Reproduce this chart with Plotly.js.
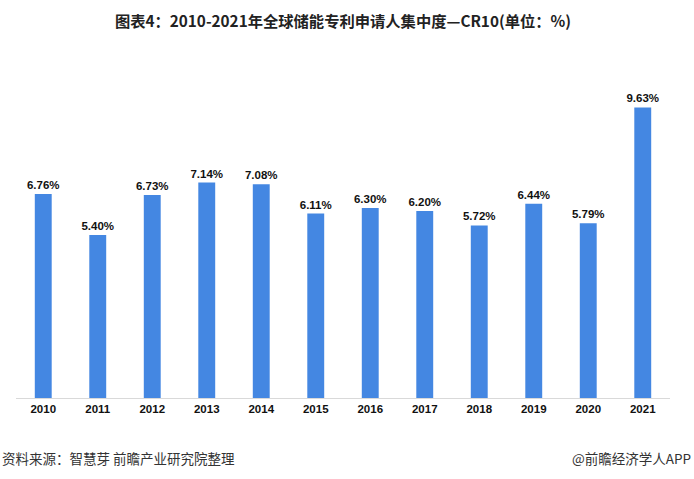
<!DOCTYPE html>
<html>
<head>
<meta charset="utf-8">
<script src="https://cdn.plot.ly/plotly-3.0.1.min.js"></script>
<style>html,body{margin:0;padding:0;background:#fff;}#chart{width:694px;height:479px;}</style>
</head>
<body>
<div id="chart"></div>
<script>
const years = ["2010","2011","2012","2013","2014","2015","2016","2017","2018","2019","2020","2021"];
const cr10 = [6.76, 5.40, 6.73, 7.14, 7.08, 6.11, 6.30, 6.20, 5.72, 6.44, 5.79, 9.63];
const titleText = "图表4：2010-2021年全球储能专利申请人集中度—CR10(单位：%)";
const sourceText = "资料来源：智慧芽 前瞻产业研究院整理";
const brandText = "@前瞻经济学人APP";

const trace = {
  type: "bar",
  x: years,
  y: cr10,
  width: 0.31,
  marker: {color: "#4487e2"},
  text: cr10.map(v => v.toFixed(2) + "%"),
  textposition: "outside",
  constraintext: "none",
  cliponaxis: false,
  textfont: {family: "Liberation Sans, Arial, sans-serif", size: 11.5, color: "#111", weight: "bold"},
  hoverinfo: "skip"
};

const layout = {
  width: 694,
  height: 479,
  margin: {l: 16, r: 24, t: 60, b: 81},
  paper_bgcolor: "#fff",
  plot_bgcolor: "#fff",
  showlegend: false,
  bargap: 0.69,
  title: {
    text: titleText,
    x: 0.5, xref: "paper", xanchor: "center",
    y: 1 - 22/479, yref: "container", yanchor: "middle",
    font: {family: "Noto Sans CJK SC, sans-serif", size: 15.3, color: "#222", weight: "bold"}
  },
  xaxis: {
    type: "category",
    showline: true, linecolor: "#d9d9d9", linewidth: 1,
    ticks: "", showgrid: false, zeroline: false,
    tickfont: {family: "Liberation Sans, Arial, sans-serif", size: 11.5, color: "#111", weight: "bold"}
  },
  yaxis: {
    range: [0, 11.2],
    visible: false, showgrid: false, zeroline: false
  },
  annotations: [
    {text: sourceText, xref: "paper", yref: "paper", x: -16/654, y: -60/338, xanchor: "left", yanchor: "middle",
     showarrow: false, font: {family: "Noto Sans CJK SC, sans-serif", size: 13.5, color: "#333"}},
    {text: brandText, xref: "paper", yref: "paper", x: 677/654, y: -60/338, xanchor: "right", yanchor: "middle",
     showarrow: false, font: {family: "Noto Sans CJK SC, sans-serif", size: 13.5, color: "#333"}}
  ]
};

Plotly.newPlot("chart", [trace], layout, {displayModeBar: false, staticPlot: true});
</script>
</body>
</html>
